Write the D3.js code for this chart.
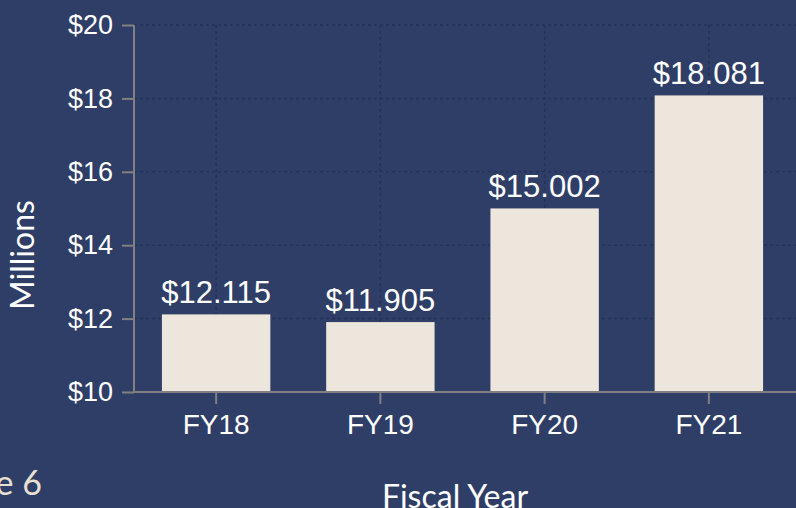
<!DOCTYPE html>
<html>
<head>
<meta charset="utf-8">
<script src="https://cdn.jsdelivr.net/npm/d3@7"></script>
<style>
  html, body { margin: 0; padding: 0; background: #2f3e66; overflow: hidden; }
  svg { display: block; }
</style>
</head>
<body>
<div id="container"></div>
<script>
let w = 796;
let h = 508;

let years = ["FY18", "FY19", "FY20", "FY21"];
let amounts = [12.115, 11.905, 15.002, 18.081];
let yTicks = [10, 12, 14, 16, 18, 20];

let plotLeft = 134;
let plotTop = 25;
let plotBottom = 392;
let plotRight = 791;

let viz = d3.select("#container").append("svg")
    .attr("width", w)
    .attr("height", h)
    .style("background-color", "#2f3e66");

let xScale = d3.scaleBand()
    .domain(years)
    .range([plotLeft, plotRight])
    .paddingInner(0.34)
    .paddingOuter(0.17);

let yScale = d3.scaleLinear()
    .domain([10, 20])
    .range([plotBottom, plotTop]);

// dashed grid
let grid = viz.append("g").classed("grid", true);
grid.selectAll(".hgrid").data(yTicks).enter().append("line")
    .attr("x1", plotLeft).attr("x2", w)
    .attr("y1", d => yScale(d)).attr("y2", d => yScale(d))
    .attr("stroke", "#24325a").attr("stroke-width", 1.5)
    .attr("stroke-dasharray", "3,3");
grid.selectAll(".vgrid").data(years).enter().append("line")
    .attr("x1", d => xScale(d) + xScale.bandwidth() / 2)
    .attr("x2", d => xScale(d) + xScale.bandwidth() / 2)
    .attr("y1", plotTop).attr("y2", plotBottom)
    .attr("stroke", "#24325a").attr("stroke-width", 1.5)
    .attr("stroke-dasharray", "3,3");

// bars
viz.selectAll(".bar").data(amounts).enter().append("rect")
    .attr("x", (d, i) => xScale(years[i]))
    .attr("width", xScale.bandwidth())
    .attr("y", d => yScale(d))
    .attr("height", d => plotBottom - yScale(d))
    .attr("fill", "#ece6dc");

// value labels
viz.selectAll(".val").data(amounts).enter().append("text")
    .attr("x", (d, i) => xScale(years[i]) + xScale.bandwidth() / 2)
    .attr("y", d => yScale(d) - 11)
    .attr("text-anchor", "middle")
    .style("font-family", "'Liberation Sans', Arial, sans-serif")
    .style("font-size", "31px")
    .attr("fill", "#ffffff")
    .text(d => "$" + d3.format(".3f")(d));

// y axis
let yAxis = d3.axisLeft(yScale).tickValues(yTicks).tickSize(12).tickPadding(9)
    .tickFormat(d => "$" + d);
let yAxisGroup = viz.append("g").attr("transform", "translate(" + plotLeft + ",0)").call(yAxis);
yAxisGroup.select(".domain").attr("d", "M0," + plotTop + "V" + plotBottom);

// x axis
let xAxis = d3.axisBottom(xScale).tickSize(12).tickPadding(10).tickSizeOuter(0);
let xAxisGroup = viz.append("g").attr("transform", "translate(0," + plotBottom + ")").call(xAxis);
xAxisGroup.select(".domain").attr("d", "M" + plotLeft + ",0H" + w);

[yAxisGroup, xAxisGroup].forEach(g => {
  g.selectAll(".domain, line").attr("stroke", "#808080").attr("stroke-width", 2);
  g.selectAll("text")
    .style("font-family", "'Liberation Sans', Arial, sans-serif")
    .attr("fill", "#ffffff");
});
yAxisGroup.selectAll("text").style("font-size", "27px");
xAxisGroup.selectAll("text").style("font-size", "28px");

// axis titles
viz.append("text")
    .attr("transform", "translate(34,255) rotate(-90)")
    .attr("text-anchor", "middle")
    .style("font-family", "Lato, sans-serif")
    .style("font-size", "32px")
    .attr("fill", "#ffffff")
    .text("Millions");

viz.append("text")
    .attr("x", 455).attr("y", 508)
    .attr("text-anchor", "middle")
    .style("font-family", "Lato, sans-serif")
    .style("font-size", "32px")
    .attr("fill", "#ffffff")
    .text("Fiscal Year");

viz.append("text")
    .attr("x", 42).attr("y", 495)
    .attr("text-anchor", "end")
    .style("font-family", "Lato, sans-serif")
    .style("font-size", "34px")
    .attr("fill", "#e8e0d3")
    .text("Figure 6");
</script>
</body>
</html>
